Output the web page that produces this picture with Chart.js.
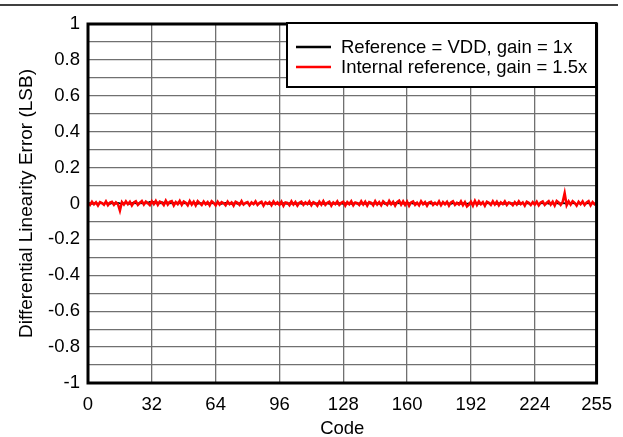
<!DOCTYPE html>
<html>
<head>
<meta charset="utf-8">
<script src="https://cdn.jsdelivr.net/npm/chart.js@4.4.1/dist/chart.umd.min.js"></script>
<style>
html,body{margin:0;padding:0;background:#fff;}
#wrap{width:623px;height:437px;position:relative;}
</style>
</head>
<body>
<div id="wrap"><canvas id="c" width="623" height="437"></canvas></div>
<script>
const xTickValues = [0, 32, 64, 96, 128, 160, 192, 224, 255];
const seriesLabels = ["Reference = VDD, gain = 1x", "Internal reference, gain = 1.5x"];
const xTitle = "Code";
const yTitle = "Differential Linearity Error (LSB)";

const dnlVdd = [
 0.001,0.003,-0.002,0.002,0.004,-0.001,0.002,0.003,-0.002,0.004,0.001,-0.003,0.002,0.003,-0.001,0.004,
 0.002,-0.002,0.003,0.001,0.004,-0.002,0.003,0.005,0.001,-0.002,0.006,0.003,0.002,0.008,0.004,0.010,
 0.006,0.009,0.003,0.007,0.002,0.008,0.005,0.003,0.007,0.002,0.006,0.004,0.001,0.005,0.003,0.006,
 0.002,0.004,-0.001,0.003,0.005,0.001,0.003,-0.002,0.004,0.002,0.001,0.003,-0.002,0.002,0.004,0.001,
 -0.002,0.003,0.001,-0.003,0.002,0.004,-0.001,0.002,-0.003,0.001,0.003,-0.002,0.002,0.000,-0.003,0.002,
 0.001,-0.002,0.003,-0.001,0.002,-0.003,0.001,0.002,-0.002,0.003,0.000,-0.002,0.002,-0.001,0.003,-0.002,
 0.001,-0.003,0.002,0.000,-0.002,0.003,-0.001,0.002,-0.003,0.001,0.002,-0.002,0.003,-0.001,0.001,-0.002,
 0.002,0.000,-0.003,0.002,-0.001,0.003,-0.002,0.001,0.002,-0.003,0.001,-0.001,0.003,-0.002,0.002,0.000,
 -0.002,0.003,-0.001,0.002,-0.003,0.001,0.002,-0.002,0.003,-0.001,0.002,-0.003,0.001,0.003,-0.002,0.002,
 -0.001,0.003,-0.002,0.001,0.002,-0.003,0.004,-0.001,0.002,-0.002,0.003,0.005,0.001,0.004,-0.001,0.003,
 0.006,0.002,0.004,-0.001,0.003,0.002,-0.002,0.004,0.001,-0.003,0.002,0.003,-0.001,0.002,0.000,-0.002,
 0.003,-0.001,0.002,-0.003,0.001,0.002,-0.002,0.003,-0.001,0.002,0.004,-0.002,0.001,0.003,-0.001,0.002,
 0.004,-0.001,0.003,0.002,-0.002,0.004,0.001,-0.003,0.002,0.003,-0.001,0.002,0.000,-0.002,0.003,-0.001,
 0.002,-0.003,0.001,0.002,-0.002,0.003,-0.001,0.002,-0.003,0.001,0.003,-0.002,0.002,0.000,-0.002,0.003,
 -0.001,0.002,-0.003,0.001,0.002,-0.002,0.003,-0.001,0.002,0.000,-0.002,0.003,-0.001,0.002,0.004,0.001,
 -0.002,0.003,-0.001,0.002,0.001,-0.003,0.002,0.000,0.003,-0.002,0.001,0.002,-0.002,0.003,-0.001,0.002
];

const dnlInternal = [
 0.004,-0.008,0.010,-0.005,0.007,-0.011,0.008,0.002,-0.007,0.012,-0.009,0.005,0.009,-0.008,0.006,-0.004,
 -0.040,0.008,-0.006,0.012,-0.004,0.010,-0.011,0.006,0.013,-0.008,0.004,0.014,-0.006,0.011,0.002,-0.009,
 0.013,-0.004,0.015,-0.008,0.011,0.006,-0.009,0.016,-0.006,0.010,0.014,-0.011,0.008,-0.004,0.015,-0.008,
 0.011,0.004,-0.010,0.014,-0.006,0.010,-0.011,0.013,0.002,-0.008,0.011,-0.004,0.008,-0.010,0.013,0.004,
 -0.011,0.010,-0.006,0.008,0.002,-0.010,0.011,-0.004,0.006,-0.012,0.010,0.004,-0.008,0.013,-0.006,0.004,
 0.008,-0.010,0.006,-0.004,0.012,-0.008,0.004,0.010,-0.012,0.006,-0.002,0.008,-0.010,0.012,-0.004,0.006,
 -0.008,0.010,-0.013,0.006,0.004,-0.010,0.012,-0.006,0.008,-0.012,0.004,0.010,-0.008,0.006,-0.004,0.012,
 -0.010,0.008,0.002,-0.012,0.010,-0.006,0.013,-0.008,0.004,0.010,-0.012,0.006,-0.004,0.012,-0.008,0.004,
 0.010,-0.012,0.008,-0.004,0.013,-0.010,0.006,0.002,-0.008,0.012,-0.006,0.010,-0.012,0.008,0.004,-0.010,
 0.013,-0.006,0.008,-0.010,0.012,0.002,-0.008,0.015,-0.004,0.010,-0.012,0.008,0.016,-0.006,0.012,-0.008,
 0.010,-0.013,0.006,0.012,-0.008,0.004,-0.010,0.013,-0.004,0.008,-0.012,0.006,0.010,-0.008,0.004,-0.006,
 0.012,-0.010,0.008,-0.004,0.010,-0.012,0.006,0.013,-0.008,0.004,-0.006,0.012,-0.010,0.008,-0.016,-0.006,
 0.010,-0.012,0.015,-0.008,0.012,-0.004,0.008,-0.013,0.010,0.004,-0.008,0.012,-0.006,0.010,-0.010,0.006,
 -0.004,0.012,-0.008,0.006,0.002,-0.010,0.008,-0.006,0.012,-0.004,0.006,-0.012,0.010,0.004,-0.008,0.008,
 -0.006,0.010,-0.010,0.006,0.012,-0.008,0.004,0.013,-0.006,0.010,-0.012,0.014,0.006,-0.008,0.008,0.058,
 -0.010,0.012,-0.006,0.013,0.004,-0.012,0.010,-0.004,0.012,-0.008,0.006,0.013,-0.010,0.008,-0.004,0.006
];

const FONT = "'Liberation Sans', Arial, sans-serif";
const FS = 18.5;

const frame = {
  id: 'frame',
  afterDraw(chart) {
    const ctx = chart.ctx, a = chart.chartArea;
    ctx.save();
    ctx.strokeStyle = '#000';
    ctx.lineWidth = 1.5;
    ctx.beginPath(); ctx.moveTo(0, 5); ctx.lineTo(618, 5); ctx.stroke();
    ctx.lineWidth = 3;
    ctx.strokeRect(a.left, a.top, a.right - a.left, a.bottom - a.top);
    const bx = 287, by = 23, bw = 309, bh = 64;
    ctx.fillStyle = '#fff';
    ctx.fillRect(bx, by, bw, bh);
    ctx.lineWidth = 2;
    ctx.strokeRect(bx, by, bw, bh);
    ctx.font = FS + 'px ' + FONT;
    ctx.textBaseline = 'middle';
    chart.data.datasets.forEach((ds, i) => {
      const y = by + 24 + i * 20;
      ctx.strokeStyle = ds.borderColor;
      ctx.lineWidth = 2.5;
      ctx.beginPath(); ctx.moveTo(296, y); ctx.lineTo(331, y); ctx.stroke();
      ctx.fillStyle = '#000';
      ctx.fillText(ds.label, 341, y + 1);
    });
    ctx.restore();
  }
};

new Chart(document.getElementById('c'), {
  type: 'line',
  data: {
    datasets: [
      { label: seriesLabels[0], data: dnlVdd.map((v, i) => ({x: i, y: v})), borderColor: '#000000', borderWidth: 1.5, pointRadius: 0, order: 1 },
      { label: seriesLabels[1], data: dnlInternal.map((v, i) => ({x: i, y: v})), borderColor: '#ff0000', borderWidth: 2.5, pointRadius: 0, order: 0 }
    ]
  },
  options: {
    responsive: false,
    animation: false,
    layout: { padding: { left: 15, right: 26, top: 24, bottom: 0 } },
    plugins: { legend: { display: false }, tooltip: { enabled: false } },
    scales: {
      x: {
        type: 'linear', min: 0, max: 255,
        afterBuildTicks(s) { s.ticks = xTickValues.map(v => ({value: v})); },
        afterFit(s) { s.height = 54; },
        grid: { color: '#707070', lineWidth: 1.3, drawTicks: false },
        border: { display: false },
        ticks: { color: '#000', font: { family: FONT, size: FS }, padding: 11, maxRotation: 0, autoSkip: false },
        title: { display: true, text: xTitle, color: '#000', font: { family: FONT, size: FS }, padding: { top: 4, bottom: -3 } }
      },
      y: {
        type: 'linear', min: -1, max: 1,
        ticks: {
          stepSize: 0.1, color: '#000', font: { family: FONT, size: FS }, padding: 8, autoSkip: false,
          callback(v) { const r = Math.round(v * 10); return r % 2 === 0 ? String(r / 10) : ''; }
        },
        afterFit(s) { s.width = 73; },
        grid: { color: '#707070', lineWidth: 1.3, drawTicks: false },
        border: { display: false },
        title: { display: true, text: yTitle, color: '#000', font: { family: FONT, size: 19 }, padding: { top: 0, bottom: 4 } }
      }
    }
  },
  plugins: [frame]
});
</script>
</body>
</html>
